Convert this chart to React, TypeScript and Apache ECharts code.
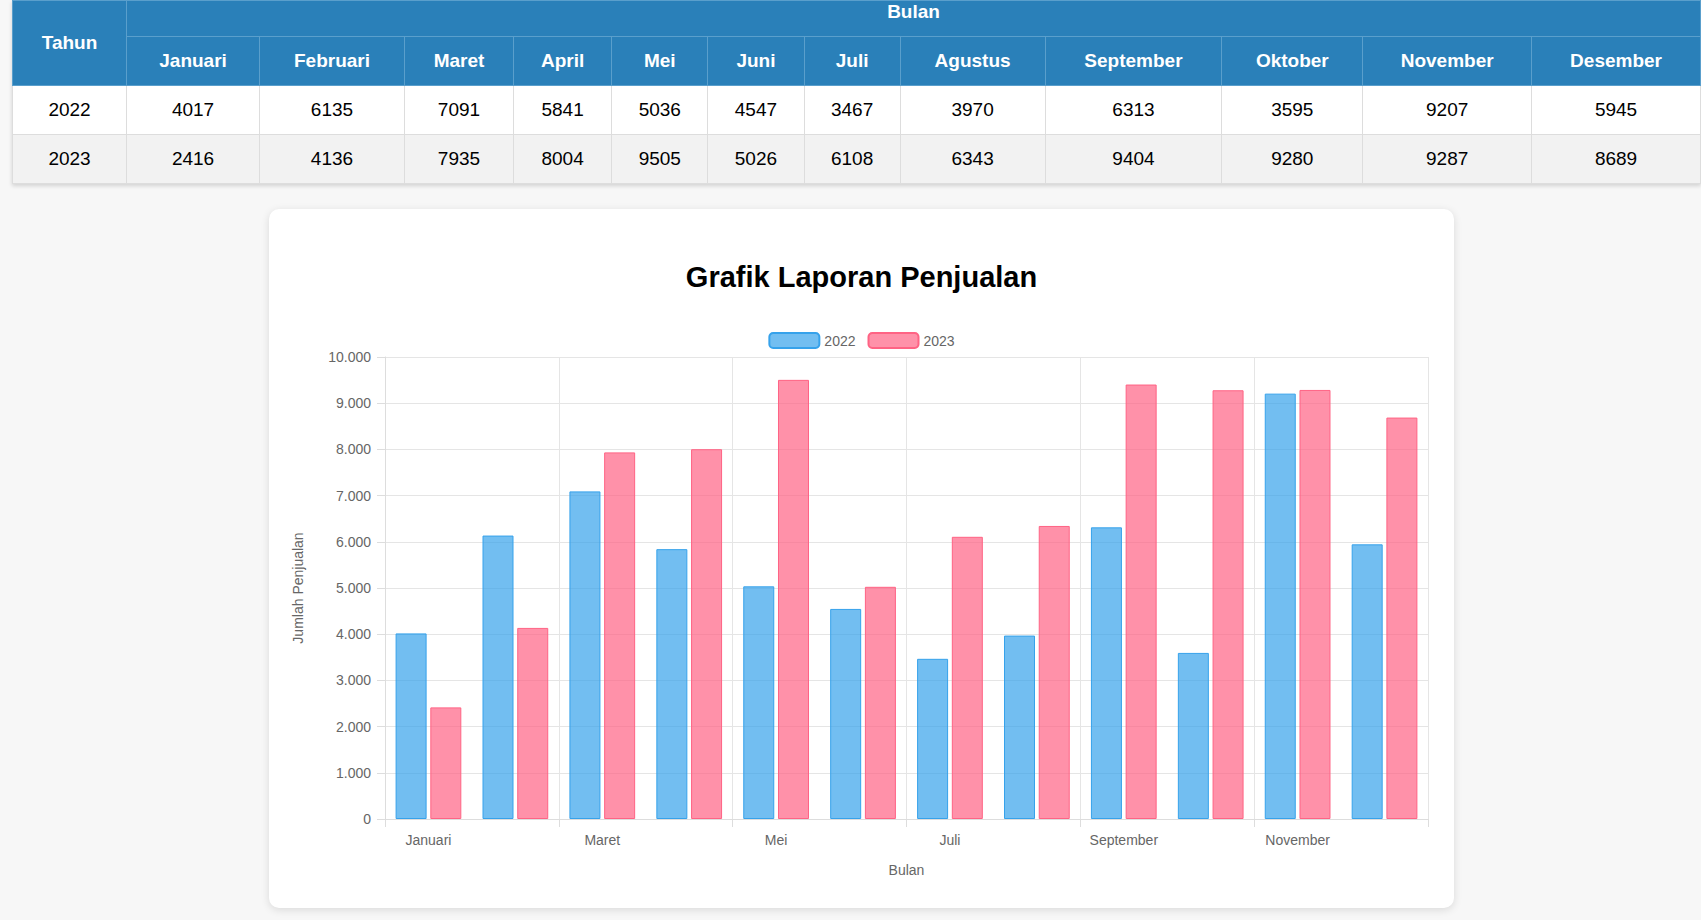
import React, { useEffect, useRef } from 'react'
import * as echarts from 'echarts'

const months = ['Januari', 'Februari', 'Maret', 'April', 'Mei', 'Juni', 'Juli', 'Agustus', 'September', 'Oktober', 'November', 'Desember']
const sales2022 = [4017, 6135, 7091, 5841, 5036, 4547, 3467, 3970, 6313, 3595, 9207, 5945]
const sales2023 = [2416, 4136, 7935, 8004, 9505, 5026, 6108, 6343, 9404, 9280, 9287, 8689]
const colWidths = [115, 134, 146, 110, 99, 97, 97, 97, 146, 178, 142, 170, 170]

const font = 'Arial, "Liberation Sans", Helvetica, sans-serif'
const fmt = (v: number) => String(v).replace(/\B(?=(\d{3})+(?!\d))/g, '.')

const cell: React.CSSProperties = { border: '1px solid #ddd', textAlign: 'center', padding: 0 }
const head: React.CSSProperties = { ...cell, background: '#2a80b9', color: '#fff', fontWeight: 'bold', border: '1px solid #5a9fcc' }

const App: React.FC = () => {
  const chartRef = useRef<HTMLDivElement>(null)

  useEffect(() => {
    if (!chartRef.current) return
    const chart = echarts.init(chartRef.current, undefined, { renderer: 'svg' })
    chart.setOption({
      animation: false,
      textStyle: { fontFamily: font },
      title: {
        text: 'Grafik Laporan Penjualan', left: 'center', top: 48,
        textStyle: { fontSize: 29, fontWeight: 'bold', color: '#000' }
      },
      legend: {
        top: 118, itemWidth: 50, itemHeight: 15, itemGap: 12,
        textStyle: { color: '#666', fontSize: 14 },
        data: ['2022', '2023']
      },
      grid: { left: 116, right: 26, top: 148, bottom: 89 },
      xAxis: {
        type: 'category', data: months,
        name: 'Bulan', nameLocation: 'middle', nameGap: 44,
        nameTextStyle: { color: '#666', fontSize: 14 },
        axisLabel: { color: '#666', fontSize: 14, margin: 14 },
        axisLine: { lineStyle: { color: '#ddd' } },
        axisTick: { show: true, length: 8, lineStyle: { color: '#ddd' } },
        splitLine: { show: true, lineStyle: { color: '#e5e5e5' } }
      },
      yAxis: {
        type: 'value', min: 0, max: 10000, interval: 1000,
        name: 'Jumlah Penjualan', nameLocation: 'middle', nameGap: 80,
        nameTextStyle: { color: '#666', fontSize: 14 },
        axisLabel: { color: '#666', fontSize: 14, margin: 14, formatter: (v: number) => fmt(v) },
        axisLine: { show: true, lineStyle: { color: '#ddd' } },
        axisTick: { show: true, length: 8, lineStyle: { color: '#ddd' } },
        splitLine: { lineStyle: { color: '#e5e5e5' } }
      },
      series: [
        {
          name: '2022', type: 'bar', data: sales2022, barWidth: 31, barGap: '12%',
          itemStyle: { color: 'rgba(54,162,235,0.7)', borderColor: 'rgb(54,162,235)', borderWidth: 1 }
        },
        {
          name: '2023', type: 'bar', data: sales2023, barWidth: 31,
          itemStyle: { color: 'rgba(255,99,132,0.7)', borderColor: 'rgb(255,99,132)', borderWidth: 1 }
        }
      ]
    })
    return () => chart.dispose()
  }, [])

  return (
    <div style={{ position: 'fixed', inset: 0, background: '#f7f7f7', overflow: 'hidden', fontFamily: font }}>
      <table style={{ position: 'absolute', left: 12, top: 0, borderCollapse: 'collapse', tableLayout: 'fixed', fontSize: 19, boxShadow: '0 2px 4px rgba(0,0,0,0.15)' }}>
        <colgroup>{colWidths.map((w, i) => <col key={i} style={{ width: w }} />)}</colgroup>
        <thead>
          <tr style={{ height: 36 }}>
            <th rowSpan={2} style={head}>Tahun</th>
            <th colSpan={12} style={{ ...head, verticalAlign: 'top' }}>Bulan</th>
          </tr>
          <tr style={{ height: 49 }}>
            {months.map(m => <th key={m} style={head}>{m}</th>)}
          </tr>
        </thead>
        <tbody>
          {[['2022', sales2022], ['2023', sales2023]].map(([y, vals], r) => (
            <tr key={y as string} style={{ height: 49, background: r ? '#f2f2f2' : '#fff' }}>
              <td style={cell}>{y as string}</td>
              {(vals as number[]).map((v, i) => <td key={i} style={cell}>{v}</td>)}
            </tr>
          ))}
        </tbody>
      </table>
      <div style={{ position: 'absolute', left: 269, top: 209, width: 1185, height: 699, background: '#fff', borderRadius: 10, boxShadow: '0 2px 8px rgba(0,0,0,0.12)' }}>
        <div ref={chartRef} style={{ width: '100%', height: '100%' }} />
      </div>
    </div>
  )
}

export default App
